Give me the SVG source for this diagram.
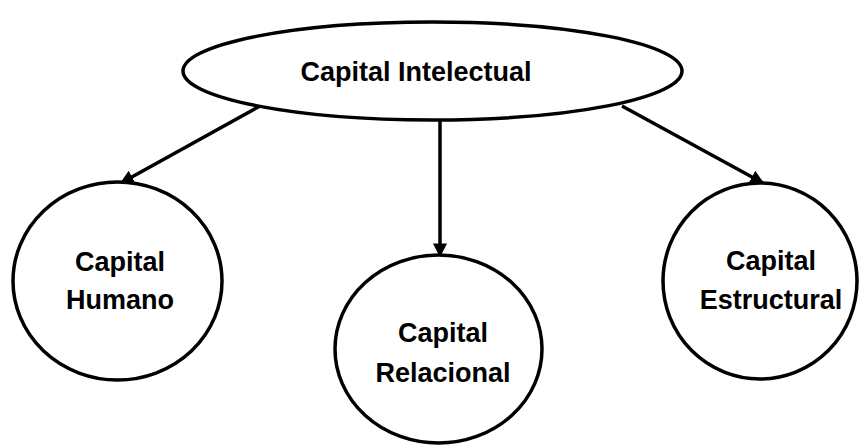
<svg xmlns="http://www.w3.org/2000/svg" width="859" height="446" viewBox="0 0 859 446">
<defs>
<marker id="arr" viewBox="0 0 10 10" refX="9" refY="5" markerWidth="4" markerHeight="4" markerUnits="strokeWidth" orient="auto">
<path d="M0,0 L10,5 L0,10 Z" fill="#000"/>
</marker>
</defs>
<style>
.shape{fill:#fff;stroke:#000;stroke-width:3.5}
.lbl{font-family:"Liberation Sans",Arial,sans-serif;font-weight:bold;font-size:27px;fill:#000;text-anchor:middle}
.conn{stroke:#000;stroke-width:3.5;fill:none;marker-end:url(#arr)}
</style>
<rect width="859" height="446" fill="#fff"/>
<g id="connectors">
<line class="conn" x1="260" y1="106" x2="121" y2="183"/>
<line class="conn" x1="440" y1="121" x2="440" y2="256"/>
<line class="conn" x1="622" y1="106" x2="763" y2="183"/>
</g>
<g id="capital-intelectual">
<ellipse class="shape" cx="432.5" cy="71" rx="249.5" ry="49"/>
<text class="lbl" x="416" y="81">Capital Intelectual</text>
</g>
<g id="capital-humano">
<ellipse class="shape" cx="117.5" cy="281" rx="104.5" ry="99"/>
<text class="lbl" x="120" y="271">Capital</text>
<text class="lbl" x="120" y="309">Humano</text>
</g>
<g id="capital-relacional">
<ellipse class="shape" cx="438.5" cy="349" rx="103.5" ry="94"/>
<text class="lbl" x="443" y="342">Capital</text>
<text class="lbl" x="443" y="382">Relacional</text>
</g>
<g id="capital-estructural">
<ellipse class="shape" cx="760" cy="281" rx="97" ry="98"/>
<text class="lbl" x="771" y="270">Capital</text>
<text class="lbl" x="771" y="309">Estructural</text>
</g>
</svg>
